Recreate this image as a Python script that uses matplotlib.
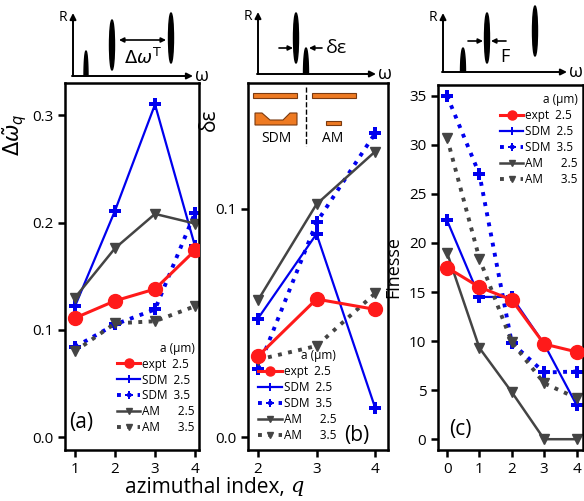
import matplotlib.pyplot as plt
import numpy as np
from matplotlib.patches import Ellipse, Rectangle, Polygon, FancyArrowPatch

plt.rcParams['font.family'] = ['Open Sans', 'DejaVu Sans']
plt.rcParams['mathtext.fontset'] = 'dejavusans'

# panel (a): linewidth vs azimuthal index
q_a = [1, 2, 3, 4]
a_expt = [0.111, 0.127, 0.138, 0.174]
a_sdm25 = [0.122, 0.211, 0.310, 0.178]
a_sdm35 = [0.084, 0.105, 0.119, 0.209]
a_am25 = [0.130, 0.176, 0.208, 0.199]
a_am35 = [0.080, 0.106, 0.108, 0.122]

# panel (b): splitting
q_b = [2, 3, 4]
b_expt = [0.0355, 0.0605, 0.056]
b_sdm25 = [0.052, 0.089, 0.013]
b_sdm35 = [0.030, 0.094, 0.133]
b_am25 = [0.060, 0.102, 0.125]
b_am35 = [0.034, 0.040, 0.063]

# panel (c): finesse
q_c = [0, 1, 2, 3, 4]
c_expt = [17.5, 15.5, 14.2, 9.7, 8.9]
c_sdm25 = [22.3, 14.5, 14.5, 9.7, 3.5]
c_sdm35 = [35.0, 27.0, 9.8, 6.8, 6.9]
c_am25 = [19.0, 9.3, 4.8, 0.0, 0.0]
c_am35 = [30.7, 18.4, 9.9, 5.7, 4.2]

names = ['expt  2.5', 'SDM  2.5', 'SDM  3.5', 'AM      2.5', 'AM      3.5']

RED = '#ff1a1a'
BLUE = '#0000ee'
GRAY = '#444444'

W, H = 584, 501
fig = plt.figure(figsize=(W / 100, H / 100), dpi=100)


def box(l, t, r, b):
    return [l / W, 1 - b / H, (r - l) / W, (b - t) / H]


def draw_series(ax, q, e, s25, s35, a25, a35):
    ax.plot(q, e, '-o', color=RED, lw=2.2, ms=10, label=names[0], zorder=5)
    ax.plot(q, s25, '-P', color=BLUE, lw=1.6, ms=9, mew=0, label=names[1])
    ax.plot(q, s35, ':P', color=BLUE, lw=2.8, ms=9, mew=0, label=names[2])
    ax.plot(q, a25, '-v', color=GRAY, lw=1.8, ms=7, label=names[3])
    ax.plot(q, a35, ':v', color=GRAY, lw=2.8, ms=7, label=names[4])


def style(ax):
    for s in ax.spines.values():
        s.set_linewidth(1.8)
    ax.tick_params(labelsize=11, width=1.8, length=5, direction='out')


def legend(ax, loc, anchor):
    lg = ax.legend(loc=loc, bbox_to_anchor=anchor, frameon=False, fontsize=8.5,
                   title='a (\u03bcm)', title_fontsize=8.5, handlelength=2.0,
                   handletextpad=0.15, labelspacing=0.25, borderpad=0.2,
                   markerscale=0.65)
    lg._legend_box.align = 'right'
    return lg


# (a)
ax1 = fig.add_axes(box(65, 83, 199, 450))
draw_series(ax1, q_a, a_expt, a_sdm25, a_sdm35, a_am25, a_am35)
ax1.set_xlim(0.75, 4.1)
ax1.set_ylim(-0.012, 0.33)
ax1.set_xticks([1, 2, 3, 4])
ax1.set_yticks([0.0, 0.1, 0.2, 0.3])
ax1.set_ylabel(r'$\Delta\tilde{\omega}_q$', fontsize=15, labelpad=2)
ax1.yaxis.set_label_coords(-0.27, 0.86)
ax1.text(0.03, 0.06, '(a)', transform=ax1.transAxes, fontsize=15)
legend(ax1, 'lower right', (1.03, 0.02))
style(ax1)

# (b)
ax2 = fig.add_axes(box(248, 83, 388, 450))
draw_series(ax2, q_b, b_expt, b_sdm25, b_sdm35, b_am25, b_am35)
ax2.set_xlim(1.83, 4.22)
ax2.set_ylim(-0.0055, 0.155)
ax2.set_xticks([2, 3, 4])
ax2.set_yticks([0.0, 0.1])
ax2.set_ylabel('\u03b4\u03b5', fontsize=15, labelpad=2)
ax2.yaxis.set_label_coords(-0.2, 0.9)
ax2.text(0.69, 0.025, '(b)', transform=ax2.transAxes, fontsize=15)
legend(ax2, 'lower right', (0.69, 0.0))
style(ax2)

# (c)
ax3 = fig.add_axes(box(438, 85, 583, 450))
draw_series(ax3, q_c, c_expt, c_sdm25, c_sdm35, c_am25, c_am35)
ax3.set_xlim(-0.28, 4.2)
ax3.set_ylim(-1.1, 36.1)
ax3.set_xticks([0, 1, 2, 3, 4])
ax3.set_yticks([0, 5, 10, 15, 20, 25, 30, 35])
ax3.set_ylabel('Finesse', fontsize=13)
ax3.yaxis.set_label_coords(-0.25, 0.5)
ax3.text(0.08, 0.04, '(c)', transform=ax3.transAxes, fontsize=15)
legend(ax3, 'upper right', (1.02, 1.0))
style(ax3)

fig.text(290 / W, 1 - 487 / H, 'azimuthal index, ', fontsize=15, ha='right', va='center')
fig.text(290 / W, 1 - 487 / H, r'$q$', fontsize=15, ha='left', va='center',
         math_fontfamily='dejavuserif')

# schematic overlays in pixel coordinates
ov = fig.add_axes([0, 0, 1, 1], zorder=10)
ov.set_xlim(0, W)
ov.set_ylim(H, 0)
ov.axis('off')


def arrow(x0, y0, x1, y1, style='-|>', lw=1.4, ms=9):
    ov.add_patch(FancyArrowPatch((x0, y0), (x1, y1), arrowstyle=style,
                                 mutation_scale=ms, lw=lw, color='k',
                                 shrinkA=0, shrinkB=0))


def peak(x, ytop, ybot, w=4):
    t = np.linspace(0, np.pi, 40)
    pts = np.column_stack([x + w / 2 * np.cos(t), ybot - (ybot - ytop) * np.sin(t)])
    ov.add_patch(Polygon(pts, closed=True, color='k'))


def frame(x0, y0, xend, ytop):
    arrow(x0, y0, x0, ytop)
    arrow(x0 - 1, y0, xend, y0)
    ov.text(x0 - 6, ytop + 4, 'R', fontsize=10, ha='right', va='center')
    ov.text(xend + 2, y0, '\u03c9', fontsize=13, ha='left', va='center')


# inset 1
frame(73, 76, 193, 13)
peak(86, 51, 76, 4)
ov.add_patch(Ellipse((112, 45), 5, 50, color='k'))
ov.add_patch(Ellipse((171, 38), 5, 50, color='k'))
arrow(119, 40, 166, 40, style='<|-|>', lw=1.2, ms=7)
ov.text(143, 58, r'$\Delta\omega^{\mathrm{T}}$', fontsize=13, ha='center', va='center')

# inset 2
frame(258, 74, 376, 12)
ov.add_patch(Ellipse((296, 38), 5, 50, color='k'))
peak(306, 48, 74, 5)
arrow(279, 48, 293, 48, lw=1.2, ms=7)
arrow(322, 48, 309, 48, lw=1.2, ms=7)
ov.text(326, 48, '\u03b4\u03b5', fontsize=14, ha='left', va='center')

# inset 3
frame(443, 72, 567, 13)
peak(463, 48, 72, 5)
ov.add_patch(Ellipse((487, 38), 5, 50, color='k'))
ov.add_patch(Ellipse((535, 31), 5, 50, color='k'))
arrow(468, 41, 483, 41, lw=1.2, ms=7)
arrow(506, 41, 491, 41, lw=1.2, ms=7)
ov.text(505, 57, 'F', fontsize=13, ha='center', va='center')

# resonator sketches inside (b)
OR = '#ee7a22'
ov.add_patch(Rectangle((253, 93), 44, 5, fc=OR, ec='#7a3a10', lw=0.8))
ov.add_patch(Rectangle((312, 93), 44, 5, fc=OR, ec='#7a3a10', lw=0.8))
ov.add_patch(Polygon([(255, 113), (262, 113), (270, 120), (283, 120), (290, 113),
                      (297, 113), (297, 125), (255, 125)], closed=True,
                     fc=OR, ec='#7a3a10', lw=0.8))
ov.add_patch(Rectangle((326, 121), 15, 4, fc=OR, ec='#7a3a10', lw=0.8))
ov.plot([306, 306], [87, 146], ls='--', color='k', lw=1)
ov.text(276, 138, 'SDM', fontsize=10, ha='center', va='center')
ov.text(333, 138, 'AM', fontsize=10, ha='center', va='center')

fig.savefig('out.png', dpi=100)
